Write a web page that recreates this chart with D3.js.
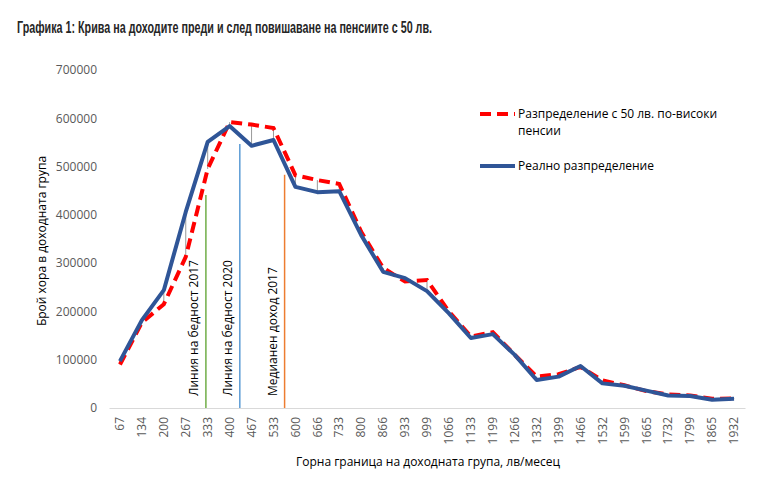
<!DOCTYPE html>
<html><head><meta charset="utf-8">
<script src="https://cdn.jsdelivr.net/npm/d3@7"></script>
<style>body{margin:0;background:#fff;} svg{display:block;}</style>
</head><body>
<script>
const categories = [67,134,200,267,333,400,467,533,600,666,733,800,866,933,999,1066,1133,1199,1266,1332,1399,1466,1532,1599,1665,1732,1799,1865,1932];
const realValues = [97000,182000,244000,406000,551000,584000,543000,555000,458000,447000,449000,358000,282000,269000,242000,196000,145000,153000,110000,58000,65000,87000,51000,46000,36000,26000,25000,17000,19000];
const raisedValues = [90000,177000,215000,313000,495000,592000,587000,580000,482000,472000,464000,365000,290000,262000,265000,200000,148000,157000,110000,65000,70000,85000,57000,47000,35000,28000,26000,19000,20000];
const yTicks = [0,100000,200000,300000,400000,500000,600000,700000];
const markers = [
  {label:"Линия на бедност  2017", income:328, top:441000, color:"#70AD47"},
  {label:"Линия на бедност  2020", income:431, top:547000, color:"#5B9BD5"},
  {label:"Медианен доход 2017", income:567, top:483000, color:"#ED7D31"}
];
const seriesNames = ["Разпределение с 50 лв. по-високи", "пенсии", "Реално разпределение"];
const title = "Графика 1: Крива на доходите преди и след повишаване на пенсиите с 50 лв.";
const xTitle = "Горна граница на доходната група, лв/месец";
const yTitle = "Брой хора в доходната група";

const W=766,H=479;
const m={left:109,right:21,top:70,bottom:71};
const svg=d3.select("body").append("svg").attr("width",W).attr("height",H);
const font="'Open Sans', sans-serif";

svg.append("text").attr("x",17).attr("y",33).text(title)
  .attr("font-family","'Liberation Sans', Arial, sans-serif").attr("font-weight","bold")
  .attr("font-size",16.5).attr("fill","#262626").attr("textLength",415).attr("lengthAdjust","spacingAndGlyphs");

const x=d3.scaleBand().domain(categories).range([m.left,W-m.right]);
const y=d3.scaleLinear().domain([0,700000]).range([H-m.bottom,m.top]);
const cx=c=>x(c)+x.bandwidth()/2;
const xi=d3.scaleLinear().domain([categories[0],categories[categories.length-1]]).range([cx(categories[0]),cx(categories[categories.length-1])]);

const ya=svg.append("g").attr("transform",`translate(${m.left},0)`)
  .call(d3.axisLeft(y).tickValues(yTicks).tickFormat(d3.format("d")).tickSize(0).tickPadding(12));
ya.select(".domain").remove();
ya.selectAll("text").attr("font-family",font).attr("font-size",12).attr("fill","#595959");

const xa=svg.append("g").attr("transform",`translate(0,${H-m.bottom})`)
  .call(d3.axisBottom(x).tickSize(0).tickPadding(0));
xa.select(".domain").attr("stroke","#D9D9D9");
xa.selectAll("text").attr("font-family",font).attr("font-size",12).attr("fill","#595959")
  .attr("text-anchor","end").attr("dy","0.35em")
  .attr("transform","translate(0,9) rotate(-90)");

markers.forEach(mk=>{
  const px=xi(mk.income);
  svg.append("line").attr("x1",px).attr("x2",px).attr("y1",y(0)).attr("y2",y(mk.top))
    .attr("stroke",mk.color).attr("stroke-width",1.5);
  svg.append("text").attr("transform",`translate(${px-8},${y(0)-12}) rotate(-90)`)
    .attr("font-family",font).attr("font-size",12).attr("fill","#000").text(mk.label);
});

svg.append("g").selectAll("line").data(categories).join("line")
  .attr("x1",d=>cx(d)).attr("x2",d=>cx(d))
  .attr("y1",(d,i)=>y(realValues[i])).attr("y2",(d,i)=>y(raisedValues[i]))
  .attr("stroke","#7F7F7F").attr("stroke-width",0.8);

const line=d3.line().x((d,i)=>cx(categories[i])).y(d=>y(d));
svg.append("path").datum(raisedValues).attr("d",line).attr("fill","none")
  .attr("stroke","#FF0000").attr("stroke-width",4).attr("stroke-dasharray","11,6");
svg.append("path").datum(realValues).attr("d",line).attr("fill","none")
  .attr("stroke","#2F5597").attr("stroke-width",4).attr("stroke-linejoin","round");

const lg=svg.append("g");
lg.append("line").attr("x1",480).attr("x2",515).attr("y1",114).attr("y2",114)
  .attr("stroke","#FF0000").attr("stroke-width",4).attr("stroke-dasharray","11,6");
lg.append("text").attr("x",518).attr("y",118).text(seriesNames[0]).attr("font-family",font).attr("font-size",12).attr("fill","#000");
lg.append("text").attr("x",518).attr("y",135).text(seriesNames[1]).attr("font-family",font).attr("font-size",12).attr("fill","#000");
lg.append("line").attr("x1",480).attr("x2",515).attr("y1",166).attr("y2",166)
  .attr("stroke","#2F5597").attr("stroke-width",4);
lg.append("text").attr("x",518).attr("y",170).text(seriesNames[2]).attr("font-family",font).attr("font-size",12).attr("fill","#000");

svg.append("text").attr("transform",`translate(46,${(y(0)+y(700000))/2+2}) rotate(-90)`)
  .attr("text-anchor","middle").attr("font-family",font).attr("font-size",12).attr("fill","#000").text(yTitle);
svg.append("text").attr("x",428).attr("y",466).attr("text-anchor","middle")
  .attr("font-family",font).attr("font-size",12).attr("fill","#000").text(xTitle);
</script>
</body></html>
